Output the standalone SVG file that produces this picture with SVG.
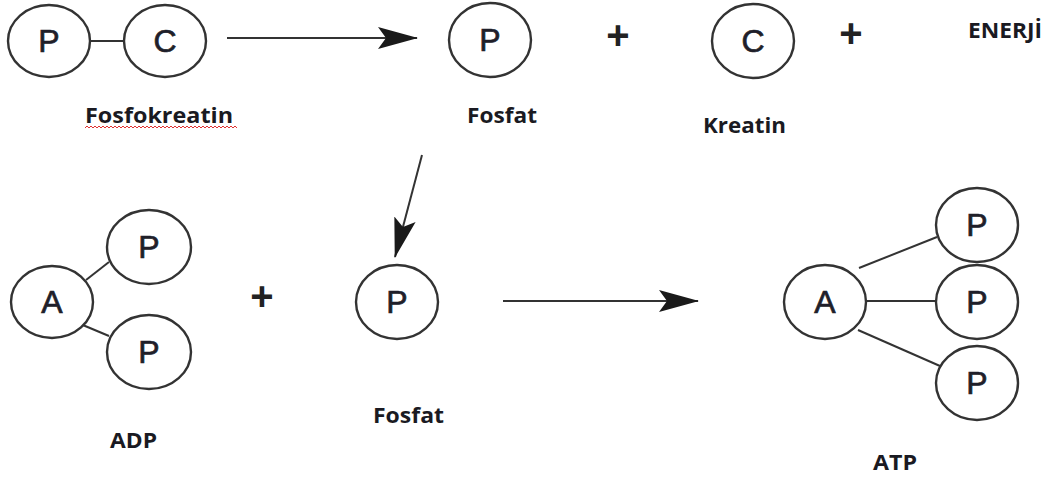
<svg xmlns="http://www.w3.org/2000/svg" width="1049" height="479" viewBox="0 0 1049 479">
<style>
.c{fill:#fff;stroke:#333;stroke-width:2.4}
.l{fill:none;stroke:#333;stroke-width:2}
.t{font-family:"Liberation Sans",Arial,sans-serif;font-size:32px;fill:#1f1f2a;stroke:#1f1f2a;stroke-width:0.7;text-anchor:middle}
.lb{font-family:"Open Sans","Liberation Sans",sans-serif;font-weight:bold;font-size:22px;fill:#1a1a22}
.pl{font-family:"Liberation Sans",Arial,sans-serif;font-weight:bold;font-size:40px;fill:#222;text-anchor:middle}
</style>
<defs>
<marker id="ah" viewBox="0 0 40 22" markerWidth="40" markerHeight="22" markerUnits="userSpaceOnUse" refX="39" refY="11" orient="auto">
<path d="M0,0 L40,11 L0,22 L8,11 z" fill="#1a1a1a"/>
</marker>
</defs>
<g id="connectors">
<line class="l" x1="90" y1="41" x2="124" y2="41"/>
<line class="l" x1="227" y1="38" x2="417" y2="38" marker-end="url(#ah)"/>
<line class="l" x1="422" y1="155" x2="395" y2="257" marker-end="url(#ah)"/>
<line class="l" x1="503" y1="301" x2="698" y2="301" marker-end="url(#ah)"/>
<line class="l" x1="86" y1="280" x2="109" y2="262"/>
<line class="l" x1="78" y1="323" x2="109" y2="336"/>
<line class="l" x1="859" y1="268" x2="937" y2="237"/>
<line class="l" x1="866" y1="301" x2="936" y2="301"/>
<line class="l" x1="858" y1="330" x2="940" y2="366"/>
</g>
<g id="pc-P"><ellipse class="c" cx="49" cy="41" rx="41" ry="36"/><text class="t" x="49" y="52">P</text></g>
<g id="pc-C"><ellipse class="c" cx="165" cy="41" rx="41" ry="36"/><text class="t" x="165" y="52">C</text></g>
<g id="label-fosfokreatin"><text class="lb" x="85" y="123" textLength="148" lengthAdjust="spacingAndGlyphs">Fosfokreatin</text>
<path d="M85,128 l2,-2 l2,2 l2,-2 l2,2 l2,-2 l2,2 l2,-2 l2,2 l2,-2 l2,2 l2,-2 l2,2 l2,-2 l2,2 l2,-2 l2,2 l2,-2 l2,2 l2,-2 l2,2 l2,-2 l2,2 l2,-2 l2,2 l2,-2 l2,2 l2,-2 l2,2 l2,-2 l2,2 l2,-2 l2,2 l2,-2 l2,2 l2,-2 l2,2 l2,-2 l2,2 l2,-2 l2,2 l2,-2 l2,2 l2,-2 l2,2 l2,-2 l2,2 l2,-2 l2,2 l2,-2 l2,2 l2,-2 l2,2 l2,-2 l2,2 l2,-2 l2,2 l2,-2 l2,2 l2,-2 l2,2 l2,-2 l2,2 l2,-2 l2,2 l2,-2 l2,2 l2,-2 l2,2 l2,-2 l2,2 l2,-2 l2,2 l2,-2 l2,2 l2,-2 l2,2" fill="none" stroke="#e03030" stroke-width="1"/></g>
<g id="fosfat-top"><ellipse class="c" cx="490" cy="40" rx="41" ry="37"/><text class="t" x="490" y="51">P</text><text class="lb" x="467" y="123" textLength="70" lengthAdjust="spacingAndGlyphs">Fosfat</text></g>
<g id="plus1"><text class="pl" x="618" y="49">+</text></g>
<g id="kreatin"><ellipse class="c" cx="753" cy="41" rx="41" ry="37"/><text class="t" x="753" y="52">C</text><text class="lb" x="703" y="133" textLength="83" lengthAdjust="spacingAndGlyphs">Kreatin</text></g>
<g id="plus2"><text class="pl" x="851" y="47">+</text></g>
<g id="enerji"><text class="lb" x="968" y="38" textLength="74" lengthAdjust="spacingAndGlyphs">ENERJİ</text></g>
<g id="adp">
<ellipse class="c" cx="52" cy="302" rx="41" ry="36"/><text class="t" x="52" y="313">A</text>
<ellipse class="c" cx="149" cy="247" rx="42" ry="37"/><text class="t" x="149" y="258">P</text>
<ellipse class="c" cx="149" cy="352" rx="42" ry="37"/><text class="t" x="149" y="363">P</text>
<text class="lb" x="110" y="448" textLength="47" lengthAdjust="spacingAndGlyphs">ADP</text>
</g>
<g id="plus3"><text class="pl" x="262" y="310">+</text></g>
<g id="fosfat-bottom"><ellipse class="c" cx="397" cy="302" rx="41" ry="37"/><text class="t" x="397" y="313">P</text><text class="lb" x="373" y="423" textLength="71" lengthAdjust="spacingAndGlyphs">Fosfat</text></g>
<g id="atp">
<ellipse class="c" cx="825" cy="302" rx="41" ry="37"/><text class="t" x="825" y="313">A</text>
<ellipse class="c" cx="977" cy="225" rx="41" ry="37"/><text class="t" x="977" y="236">P</text>
<ellipse class="c" cx="977" cy="302" rx="41" ry="37"/><text class="t" x="977" y="313">P</text>
<ellipse class="c" cx="977" cy="383" rx="41" ry="37"/><text class="t" x="977" y="394">P</text>
<text class="lb" x="873" y="470" textLength="44" lengthAdjust="spacingAndGlyphs">ATP</text>
</g>
</svg>
